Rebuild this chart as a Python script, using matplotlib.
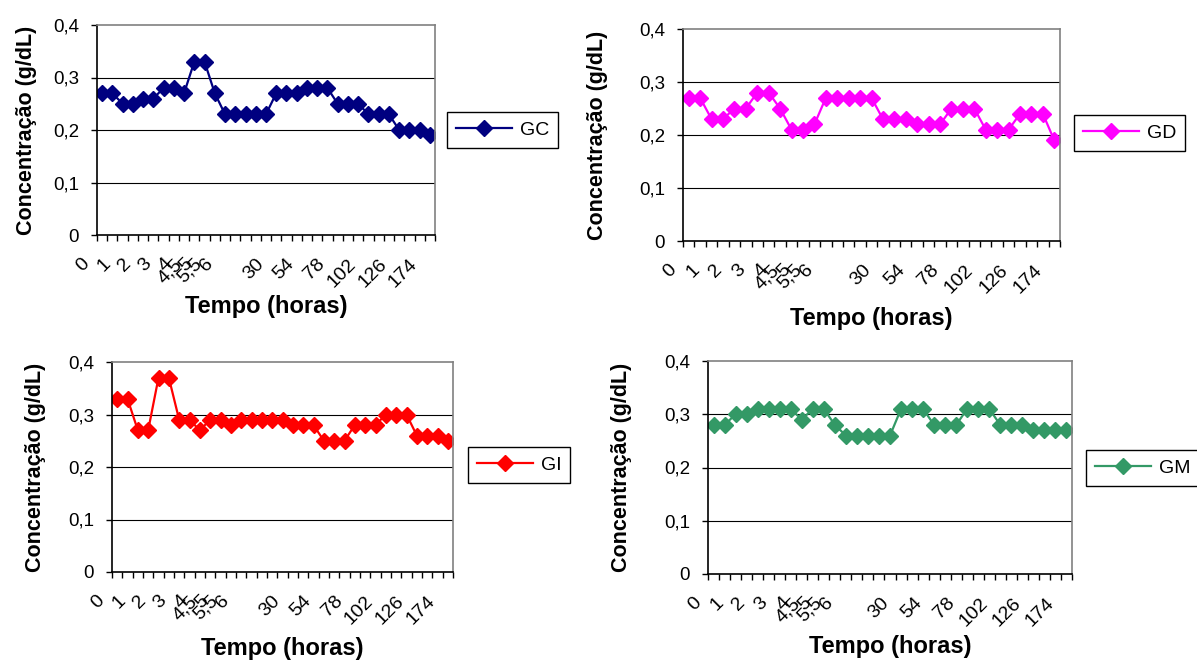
import matplotlib
matplotlib.use("Agg")
from matplotlib import pyplot as plt
from matplotlib.transforms import ScaledTranslation
import numpy as np

plt.rcParams['font.family'] = ['Liberation Sans', 'DejaVu Sans']

# category labels of the time axis (blank where Excel shows nothing)
tempo = ['0', '', '1', '', '2', '', '3', '', '4', '4,5', '5', '5,5', '6', '', '', '', '',
         '30', '', '', '54', '', '', '78', '', '', '102', '', '', '126', '', '', '174']

gc = [0.27, 0.27, 0.25, 0.25, 0.26, 0.26, 0.28, 0.28, 0.27, 0.33, 0.33, 0.27, 0.23, 0.23, 0.23, 0.23, 0.23,
      0.27, 0.27, 0.27, 0.28, 0.28, 0.28, 0.25, 0.25, 0.25, 0.23, 0.23, 0.23, 0.20, 0.20, 0.20, 0.19]
gd = [0.27, 0.27, 0.23, 0.23, 0.25, 0.25, 0.28, 0.28, 0.25, 0.21, 0.21, 0.22, 0.27, 0.27, 0.27, 0.27, 0.27,
      0.23, 0.23, 0.23, 0.22, 0.22, 0.22, 0.25, 0.25, 0.25, 0.21, 0.21, 0.21, 0.24, 0.24, 0.24, 0.19]
gi = [0.33, 0.33, 0.27, 0.27, 0.37, 0.37, 0.29, 0.29, 0.27, 0.29, 0.29, 0.28, 0.29, 0.29, 0.29, 0.29, 0.29,
      0.28, 0.28, 0.28, 0.25, 0.25, 0.25, 0.28, 0.28, 0.28, 0.30, 0.30, 0.30, 0.26, 0.26, 0.26, 0.25]
gm = [0.28, 0.28, 0.30, 0.30, 0.31, 0.31, 0.31, 0.31, 0.29, 0.31, 0.31, 0.28, 0.26, 0.26, 0.26, 0.26, 0.26,
      0.31, 0.31, 0.31, 0.28, 0.28, 0.28, 0.31, 0.31, 0.31, 0.28, 0.28, 0.28, 0.27, 0.27, 0.27, 0.27]

y_ticks = [0, 0.1, 0.2, 0.3, 0.4]
y_ticklabels = ['0', '0,1', '0,2', '0,3', '0,4']

W, H = 1197, 662
fig = plt.figure(figsize=(W / 100, H / 100), dpi=100)

# (left, top, right, bottom) of plot area in pixels, ylabel x, xlabel y, legend left, legend center y
panels = [
    (gc, 'GC', '#000080', (97, 25, 435, 235), 27, 307, 447, 130),
    (gd, 'GD', '#FF00FF', (683, 29, 1060, 241), 597, 318, 1074, 133),
    (gi, 'GI', '#FF0000', (112, 362, 453, 572), 36, 649, 468, 465),
    (gm, 'GM', '#339966', (708, 361, 1072, 574), 622, 647, 1086, 468),
]

x = np.arange(len(tempo))
for vals, name, color, box, ylx, xly, legx, legy in panels:
    l, t, r, b = box
    ax = fig.add_axes([l / W, 1 - b / H, (r - l) / W, (b - t) / H])
    ax.plot(x, vals, '-', color=color, lw=1.6, marker='D', ms=8, label=name)
    ax.set_xlim(-0.5, len(tempo) - 0.5)
    ax.set_ylim(0, 0.4)

    ax.set_yticks(y_ticks)
    ax.set_yticklabels(y_ticklabels, fontsize=13.5)
    ax.tick_params(axis='y', direction='out', length=4, width=1, pad=9)
    for yv in y_ticks[1:4]:
        ax.axhline(yv, color='black', lw=0.8, zorder=0)

    idx = [i for i, s in enumerate(tempo) if s]
    ax.set_xticks(idx)
    ax.set_xticklabels([tempo[i] for i in idx], fontsize=14, rotation=45,
                       ha='right', va='center', rotation_mode='anchor')
    ax.set_xticks(np.arange(len(tempo) + 1) - 0.5, minor=True)
    ax.tick_params(axis='x', which='major', length=0, pad=19)
    ax.tick_params(axis='x', which='minor', direction='out', length=4, width=1)
    shift = ScaledTranslation(-0.15, 0, fig.dpi_scale_trans)
    for lab in ax.get_xticklabels():
        lab.set_transform(lab.get_transform() + shift)

    for side in ['left', 'bottom']:
        ax.spines[side].set_color('black')
        ax.spines[side].set_linewidth(1.2)
    for side in ['top', 'right']:
        ax.spines[side].set_color('#808080')
        ax.spines[side].set_linewidth(1.2)

    ax.set_ylabel('Concentração (g/dL)', fontsize=15.5, fontweight='bold', va='center')
    ax.yaxis.set_label_coords((ylx - l) / (r - l), 0.5)
    ax.set_xlabel('Tempo (horas)', fontsize=17, fontweight='bold', va='center')
    ax.xaxis.set_label_coords(0.5, (b - xly) / (b - t))

    leg = ax.legend(loc='center left', bbox_to_anchor=(legx / W, 1 - legy / H),
                    bbox_transform=fig.transFigure, fontsize=14, numpoints=1,
                    handlelength=2.9, handletextpad=0.4, borderpad=0.45,
                    fancybox=False, framealpha=1, edgecolor='black', borderaxespad=0)
    leg.get_frame().set_linewidth(1.0)

fig.savefig('out.png', dpi=100)
